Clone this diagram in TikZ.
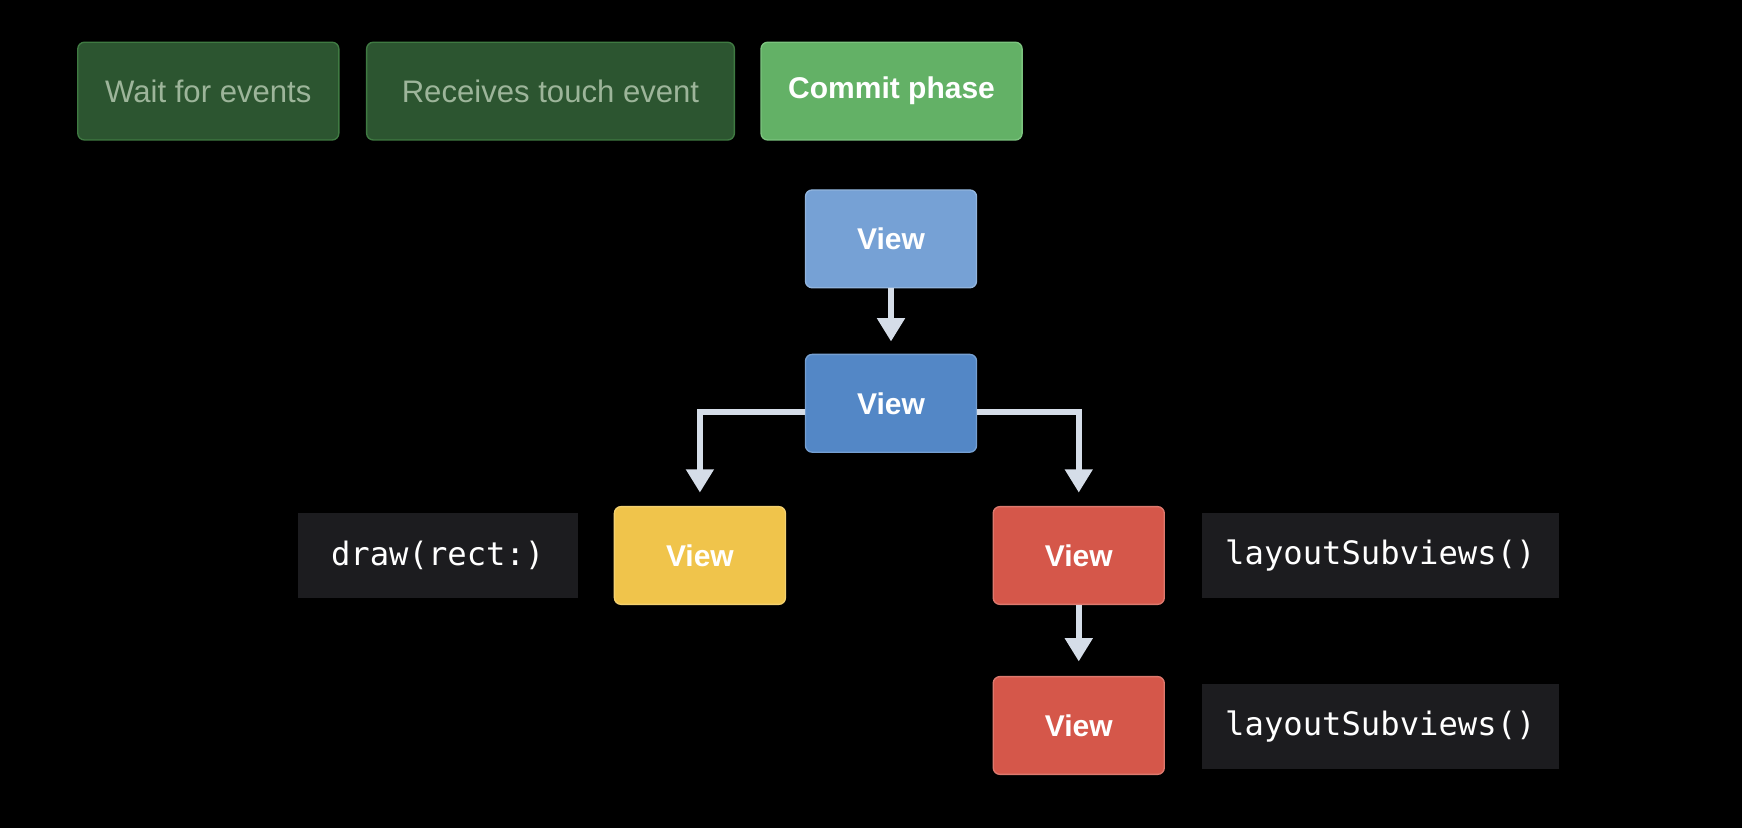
\documentclass[tikz,border=0pt]{standalone}
\usepackage{fontspec}
\setmainfont{Liberation Sans}
\setmonofont{DejaVu Sans Mono}
\usetikzlibrary{arrows.meta}
\definecolor{phasedark}{HTML}{2C5530}
\definecolor{phaseedge}{HTML}{3F7A42}
\definecolor{phasetext}{HTML}{9DB59A}
\definecolor{phaselight}{HTML}{63B166}
\definecolor{phaselightedge}{HTML}{7CC47F}
\definecolor{viewlight}{HTML}{76A1D5}
\definecolor{viewblue}{HTML}{5387C6}
\definecolor{viewyellow}{HTML}{F0C44B}
\definecolor{viewred}{HTML}{D5574A}
\definecolor{codebg}{HTML}{1C1C1F}
\definecolor{arrowgray}{HTML}{D5DDE8}
\begin{document}
\begin{tikzpicture}[x=1pt,y=-1pt,
	box/.style={rectangle,rounded corners=6pt,minimum height=88pt,inner sep=0pt,line width=1.2pt,font=\fontsize{28}{33}\selectfont},
	phase/.style={box,fill=phasedark,draw=phaseedge,text=phasetext},
	view/.style={box,minimum width=154pt,text=white,fill=#1,draw=#1!80!white,font=\bfseries\fontsize{27}{32}\selectfont},
	code/.style={rectangle,fill=codebg,minimum height=76pt,inner sep=0pt,text=white,font=\ttfamily\fontsize{29}{34}\selectfont},
	link/.style={draw=arrowgray,line width=5.5pt,-{Triangle[width=24pt,length=21pt]}}]
	\fill[black](0,0)rectangle(1568,745);
	\node(wait)at(187.5,82)[phase,minimum width=235pt]{Wait for events};
	\node(touch)at(495.5,82)[phase,minimum width=331pt]{Receives touch event};
	\node(commit)at(802.5,82)[box,minimum width=235pt,fill=phaselight,draw=phaselightedge,text=white,font=\bfseries\fontsize{27}{32}\selectfont]{Commit phase};
	\node(root)at(802,215)[view=viewlight]{View};
	\node(mid)at(802,363)[view=viewblue]{View};
	\node(drawn)at(630,500)[view=viewyellow]{View};
	\node(laid)at(971,500)[view=viewred]{View};
	\node(sub)at(971,653)[view=viewred]{View};
	\node(drawcode)at(394,500)[code,minimum width=252pt]{draw(rect:)};
	\node(laycode)at(1242.5,500)[code,minimum width=321pt]{layoutSubviews()};
	\node(subcode)at(1242.5,654)[code,minimum width=321pt]{layoutSubviews()};
	\draw[link,shorten >=11pt](root)--(mid);
	\draw[link,shorten >=12pt]([yshift=-8pt]mid.west)-|(drawn.north);
	\draw[link,shorten >=12pt]([yshift=-8pt]mid.east)-|(laid.north);
	\draw[link,shorten >=13pt](laid)--(sub);
\end{tikzpicture}
\end{document}
